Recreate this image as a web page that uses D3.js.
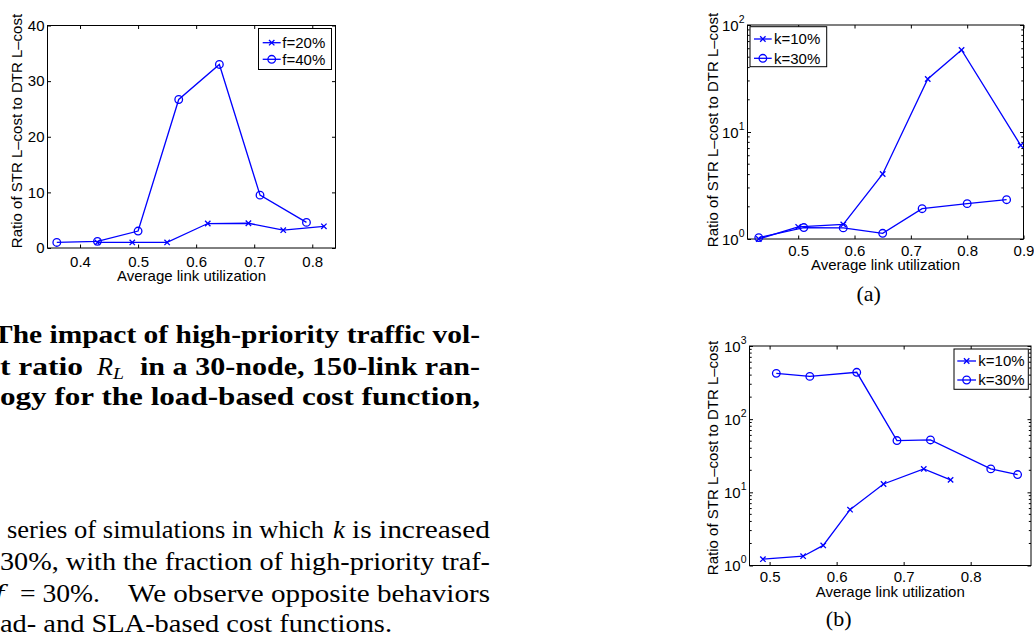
<!DOCTYPE html>
<html><head><meta charset="utf-8">
<script src="https://cdn.jsdelivr.net/npm/d3@7"></script>
<style>
body{margin:0;background:#fff;}
svg{display:block;}
.sans{font-family:"Liberation Sans",Arial,Helvetica,sans-serif;}
.serif{font-family:"Liberation Serif","Times New Roman",serif;}
</style></head><body>
<svg id="c" width="1034" height="635"></svg>
<script>
// ---------- data ----------
// Panel 1: impact of high-priority traffic volume (f)
const p1UtilF20 = [0.43, 0.49, 0.55, 0.62, 0.69, 0.75, 0.82];
const p1RatioF20 = [1.0, 1.0, 1.0, 4.4, 4.45, 3.2, 3.9];
const p1UtilF40 = [0.36, 0.43, 0.50, 0.57, 0.64, 0.71, 0.79];
const p1RatioF40 = [1.0, 1.2, 3.05, 26.7, 33.0, 9.5, 4.6];
const p1XTicks = [0.4, 0.5, 0.6, 0.7, 0.8];
const p1YTicks = [0, 10, 20, 30, 40];
const p1Legend = ["f=20%", "f=40%"];

// Panel (a): load-based, k varied
const paUtilK10 = [0.43, 0.50, 0.58, 0.65, 0.73, 0.79, 0.895];
const paRatioK10 = [1.0, 1.30, 1.37, 4.05, 31.3, 58.4, 7.5];
const paUtilK30 = [0.43, 0.51, 0.58, 0.65, 0.72, 0.80, 0.87];
const paRatioK30 = [1.03, 1.28, 1.27, 1.13, 1.92, 2.14, 2.33];
const paXTicks = [0.5, 0.6, 0.7, 0.8, 0.9];
const paYTicks = [1, 10, 100];

// Panel (b): SLA-based, k varied
const pbUtilK10 = [0.49, 0.55, 0.58, 0.62, 0.67, 0.73, 0.77];
const pbRatioK10 = [1.22, 1.34, 1.88, 5.8, 13.0, 20.9, 14.8];
const pbUtilK30 = [0.51, 0.56, 0.63, 0.69, 0.74, 0.83, 0.87];
const pbRatioK30 = [423, 384, 437, 51, 52, 20.9, 17.5];
const pbXTicks = [0.5, 0.6, 0.7, 0.8];
const pbYTicks = [1, 10, 100, 1000];
const kLegend = ["k=10%", "k=30%"];

const yLabel = "Ratio of STR L\u2013cost to DTR L\u2013cost";
const xLabel = "Average link utilization";
const BLUE = "#0000ff";

const svg = d3.select("#c");

function marker(g, kind, cx, cy) {
  if (kind === "x") {
    const s = 2.7;
    g.append("path").attr("d", `M${cx-s},${cy-s}L${cx+s},${cy+s}M${cx-s},${cy+s}L${cx+s},${cy-s}`)
      .attr("stroke", BLUE).attr("stroke-width", 1.3).attr("fill", "none");
  } else {
    g.append("circle").attr("cx", cx).attr("cy", cy).attr("r", 3.8)
      .attr("stroke", BLUE).attr("stroke-width", 1.3).attr("fill", "none");
  }
}

function panel(o) {
  const g = svg.append("g").attr("class", "sans");
  const x = d3.scaleLinear().domain(o.xDomain).range([o.left, o.right]);
  const y = (o.log ? d3.scaleLog() : d3.scaleLinear()).domain(o.yDomain).range([o.bottom, o.top]);

  const fs = 15;
  const bx = g.append("g").attr("transform", `translate(0,${o.bottom})`)
    .call(d3.axisBottom(x).tickValues(o.xTicks).tickFormat(d3.format(".1f")).tickSizeInner(-3.5).tickSizeOuter(0).tickPadding(o.xPad));
  const tx = g.append("g").attr("transform", `translate(0,${o.top})`)
    .call(d3.axisTop(x).tickValues(o.xTicks).tickFormat("").tickSizeInner(-3.5).tickSizeOuter(0));
  const ly = g.append("g").attr("transform", `translate(${o.left},0)`)
    .call(d3.axisLeft(y).tickValues(o.yTicks).tickFormat(o.log ? () => "" : d3.format("d")).tickSizeInner(-3.5).tickSizeOuter(0).tickPadding(3));
  const ry = g.append("g").attr("transform", `translate(${o.right},0)`)
    .call(d3.axisRight(y).tickValues(o.yTicks).tickFormat("").tickSizeInner(-3.5).tickSizeOuter(0));
  [bx, tx, ly, ry].forEach(a => {
    a.select(".domain").remove();
    a.selectAll("line").attr("stroke", "#000").attr("stroke-width", 1);
    a.selectAll("text").attr("font-size", fs).attr("fill", "#000").attr("font-family", "Liberation Sans, Arial, sans-serif");
  });
  if (o.log) {
    ly.selectAll(".tick text").each(function(d) {
      const t = d3.select(this).attr("dy", "0.34em");
      t.append("tspan").text("10");
      t.append("tspan").attr("font-size", 10.5).attr("dy", "-0.75em").text(String(Math.round(Math.log10(d))));
    });
    const minors = [];
    const [d0, d1] = o.yDomain;
    for (let e = Math.log10(d0); e < Math.log10(d1); e++) {
      for (let m = 2; m <= 9; m++) minors.push(m * Math.pow(10, e));
    }
    ly.selectAll(".minor").data(minors).join("line").attr("class", "minor")
      .attr("x1", 0).attr("x2", 2.2).attr("y1", d => y(d)).attr("y2", d => y(d)).attr("stroke", "#000");
    ry.selectAll(".minor").data(minors).join("line").attr("class", "minor")
      .attr("x1", 0).attr("x2", -2.2).attr("y1", d => y(d)).attr("y2", d => y(d)).attr("stroke", "#000");
  }

  g.append("rect").attr("x", o.left).attr("y", o.top).attr("width", o.right - o.left).attr("height", o.bottom - o.top)
    .attr("fill", "none").attr("stroke", "#000").attr("stroke-width", 1);

  const line = d3.line().x(d => x(d[0])).y(d => y(d[1]));
  o.series.forEach(s => {
    const pts = s.x.map((v, i) => [v, s.y[i]]);
    g.append("path").attr("d", line(pts)).attr("fill", "none").attr("stroke", BLUE).attr("stroke-width", 1.3);
    pts.forEach(p => marker(g, s.marker, x(p[0]), y(p[1])));
  });

  g.append("text").attr("x", (o.left + o.right) / 2).attr("y", o.xLabelY).attr("text-anchor", "middle")
    .attr("font-size", fs).text(xLabel);
  g.append("text").attr("transform", `translate(${o.yLabelX},${o.yLabelC}) rotate(-90)`)
    .attr("text-anchor", "middle").attr("font-size", fs).text(yLabel);

  const L = o.legend;
  g.append("rect").attr("x", L.x0).attr("y", L.y0).attr("width", L.x1 - L.x0).attr("height", L.y1 - L.y0)
    .attr("fill", "#fff").attr("stroke", "#000").attr("stroke-width", 1);
  o.series.forEach((s, i) => {
    const yy = L.rows[i];
    g.append("line").attr("x1", L.lx0).attr("x2", L.lx1).attr("y1", yy).attr("y2", yy)
      .attr("stroke", BLUE).attr("stroke-width", 1.3);
    marker(g, s.marker, (L.lx0 + L.lx1) / 2, yy);
    g.append("text").attr("x", L.tx).attr("y", yy).attr("dy", "0.35em").attr("font-size", fs).text(s.name);
  });
}

panel({
  left: 47.5, right: 335.5, top: 25.5, bottom: 248,
  xDomain: [0.344, 0.84], yDomain: [0, 40], log: false,
  xTicks: p1XTicks, yTicks: p1YTicks, xPad: 8,
  xLabelY: 281, yLabelX: 21.5, yLabelC: 131,
  series: [
    { name: p1Legend[0], x: p1UtilF20, y: p1RatioF20, marker: "x" },
    { name: p1Legend[1], x: p1UtilF40, y: p1RatioF40, marker: "o" }
  ],
  legend: { x0: 258.5, x1: 331.5, y0: 28.5, y1: 69.5, rows: [42.7, 59.3], lx0: 262.7, lx1: 280.7, tx: 282.3 }
});

panel({
  left: 747.5, right: 1023.5, top: 25, bottom: 239,
  xDomain: [0.41, 0.9], yDomain: [1, 100], log: true,
  xTicks: paXTicks, yTicks: paYTicks, xPad: 6,
  xLabelY: 270, yLabelX: 717.5, yLabelC: 130,
  series: [
    { name: kLegend[0], x: paUtilK10, y: paRatioK10, marker: "x" },
    { name: kLegend[1], x: paUtilK30, y: paRatioK30, marker: "o" }
  ],
  legend: { x0: 750, x1: 826.7, y0: 26.7, y1: 66.7, rows: [39, 58.3], lx0: 754, lx1: 771.7, tx: 774 }
});

panel({
  left: 749.5, right: 1031, top: 346, bottom: 565.5,
  xDomain: [0.47, 0.89], yDomain: [1, 1000], log: true,
  xTicks: pbXTicks, yTicks: pbYTicks, xPad: 6,
  xLabelY: 597.3, yLabelX: 718, yLabelC: 458,
  series: [
    { name: kLegend[0], x: pbUtilK10, y: pbRatioK10, marker: "x" },
    { name: kLegend[1], x: pbUtilK30, y: pbRatioK30, marker: "o" }
  ],
  legend: { x0: 954, x1: 1028.3, y0: 349, y1: 389.3, rows: [361, 380], lx0: 957.3, lx1: 976, tx: 978.3 }
});

svg.append("text").attr("class", "serif").attr("x", 868.7).attr("y", 301).attr("text-anchor", "middle").attr("font-size", 22).text("(a)");
svg.append("text").attr("class", "serif").attr("x", 838.7).attr("y", 626).attr("text-anchor", "middle").attr("font-size", 22).text("(b)");

function seg(x, y, str, len, opts = {}) {
  const t = svg.append("text").attr("class", "serif").attr("x", x).attr("y", y)
    .attr("font-size", opts.size || 24).attr("fill", "#000");
  if (opts.bold) t.attr("font-weight", "bold");
  if (opts.italic) t.attr("font-style", "italic");
  if (len) t.attr("textLength", len).attr("lengthAdjust", "spacingAndGlyphs");
  t.text(str);
  return t;
}
// bold caption (cropped at the page's left edge)
seg(-7, 343.3, "The impact of high-priority traffic vol-", 487, { bold: true, size: 25 });
seg(0, 375, "t ratio", 83, { bold: true, size: 25 });
seg(97, 375, "R", 16, { italic: true, size: 25 });
seg(113, 379, "L", 11, { italic: true, size: 17 });
seg(140, 375, "in a 30-node, 150-link ran-", 340, { bold: true, size: 25 });
seg(0, 405, "ogy for the load-based cost function,", 480, { bold: true, size: 25 });
// paragraph
seg(7, 538.3, "series of simulations in which", 317, { size: 26 });
seg(333, 538.3, "k", 12, { italic: true, size: 26 });
seg(352, 538.3, "is increased", 138, { size: 26 });
seg(0, 570, "30%, with the fraction of high-priority traf-", 490, { size: 26 });
seg(-6, 601.7, "f", 10, { italic: true, size: 26 });
seg(20, 601.7, "= 30%.", 80, { size: 26 });
seg(128, 601.7, "We observe opposite behaviors", 362, { size: 26 });
seg(0, 631.7, "ad- and SLA-based cost functions.", 392, { size: 26 });
</script>
</body></html>
